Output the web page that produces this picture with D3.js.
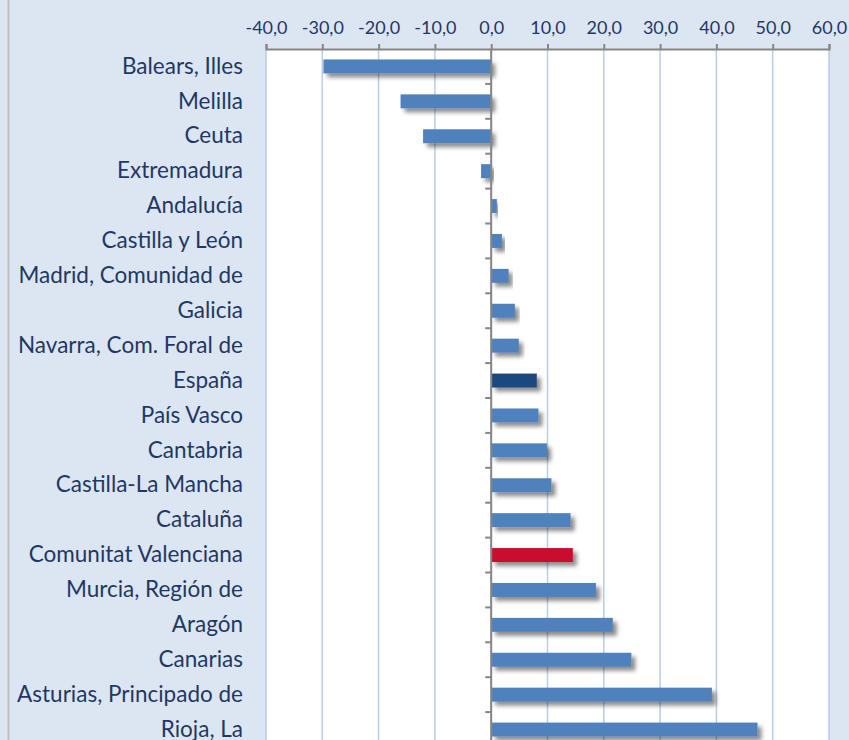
<!DOCTYPE html>
<html>
<head>
<meta charset="utf-8" />
<title>D3 barChart</title>
<style>
body { margin: 0; background: #dce6f2; }
#graph { width: 849px; height: 740px; }
text { font-family: Lato, "Open Sans", sans-serif; fill: #1f3864; }
</style>
</head>
<body>
<div id="graph"></div>
<script src="https://cdnjs.cloudflare.com/ajax/libs/d3/7.8.5/d3.min.js"></script>
<script>
!(function(){
    "use strict"

    var categories = ["Balears, Illes", "Melilla", "Ceuta", "Extremadura", "Andalucía",
        "Castilla y León", "Madrid, Comunidad de ", "Galicia", "Navarra, Com. Foral de", "España",
        "País Vasco", "Cantabria", "Castilla-La Mancha", "Cataluña", "Comunitat Valenciana",
        "Murcia, Región de", "Aragón", "Canarias", "Asturias, Principado de", "Rioja, La"]
    var values = [-29.8, -16.1, -12.1, -1.8, 1.0, 1.9, 3.1, 4.2, 4.9, 8.1,
        8.4, 9.9, 10.7, 14.1, 14.5, 18.6, 21.6, 24.9, 39.2, 47.3]
    var tickValues = [-40, -30, -20, -10, 0, 10, 20, 30, 40, 50, 60]

    var width = 849, height = 740
    var margin = {top: 49, left: 266, right: 20}
    var plotRight = 829

    var svg = d3.select("#graph").append("svg").attr("width", width).attr("height", height)

    var defs = svg.append("defs")
    defs.append("filter").attr("id", "shadow")
        .attr("x", "-10%").attr("y", "-30%").attr("width", "130%").attr("height", "190%")
        .append("feDropShadow")
        .attr("dx", 4).attr("dy", 4).attr("stdDeviation", 2)
        .attr("flood-color", "#000").attr("flood-opacity", 0.45)

    var xScale = d3.scaleLinear().domain([-40, 60]).range([margin.left, plotRight])
    var yScale = d3.scaleBand().domain(categories)
        .range([margin.top, margin.top + categories.length * 34.9])
        .paddingInner(0.6).paddingOuter(0.3)

    // left border
    svg.append("line").attr("x1", 8.5).attr("x2", 8.5).attr("y1", 0).attr("y2", height)
        .attr("stroke", "#bfbfbf").attr("stroke-width", 2)

    // plot area
    svg.append("rect").attr("x", margin.left).attr("y", margin.top)
        .attr("width", plotRight - margin.left).attr("height", height - margin.top)
        .attr("fill", "#fff")

    // gridlines
    svg.append("g").selectAll("line").data(tickValues).enter().append("line")
        .attr("x1", function(d){ return xScale(d) }).attr("x2", function(d){ return xScale(d) })
        .attr("y1", margin.top).attr("y2", height)
        .attr("stroke", "#b9cde5").attr("stroke-width", 1.5)

    // top axis
    var xAxis = d3.axisTop(xScale).tickValues(tickValues).tickSize(5).tickPadding(10)
        .tickFormat(function(d){ return d3.format(".1f")(d).replace(".", ",").replace("−", "-") })
    var gx = svg.append("g").attr("transform", "translate(0," + margin.top + ")").call(xAxis)
    gx.select(".domain").attr("stroke", "#868686").attr("stroke-width", 2)
    gx.selectAll(".tick line").attr("stroke", "#868686").attr("stroke-width", 2)
    gx.selectAll(".tick text").attr("font-size", "18px").attr("fill", "#1f3864")
        .attr("font-family", "Lato, sans-serif")

    // bars
    svg.append("g").selectAll("rect").data(values).enter().append("rect")
        .attr("x", function(d){ return xScale(Math.min(0, d)) })
        .attr("y", function(d, i){ return yScale(categories[i]) })
        .attr("width", function(d){ return Math.abs(xScale(d) - xScale(0)) })
        .attr("height", yScale.bandwidth())
        .attr("fill", function(d, i){
            if (categories[i] === "España") return "#1f497d"
            if (categories[i] === "Comunitat Valenciana") return "#c8102e"
            return "#4f81bd"
        })
        .attr("filter", "url(#shadow)")

    // zero axis with ticks between categories
    var step = yScale.step()
    var boundaries = categories.slice(1).map(function(c){ return yScale(c) - step * 0.3 })
    var gz = svg.append("g")
    gz.append("line").attr("x1", xScale(0)).attr("x2", xScale(0))
        .attr("y1", margin.top).attr("y2", height)
        .attr("stroke", "#868686").attr("stroke-width", 2)
    gz.selectAll(".zt").data(boundaries).enter().append("line").attr("class", "zt")
        .attr("x1", xScale(0) - 6).attr("x2", xScale(0))
        .attr("y1", function(d){ return d }).attr("y2", function(d){ return d })
        .attr("stroke", "#868686").attr("stroke-width", 2)

    // category labels
    var yAxis = d3.axisLeft(yScale).tickSize(0).tickPadding(0)
    var gy = svg.append("g").attr("transform", "translate(243,0)").call(yAxis)
    gy.select(".domain").remove()
    gy.selectAll(".tick text").attr("font-size", "22.5px").attr("fill", "#1f3864")
        .attr("font-family", "Lato, sans-serif")
}());
</script>
</body>
</html>
